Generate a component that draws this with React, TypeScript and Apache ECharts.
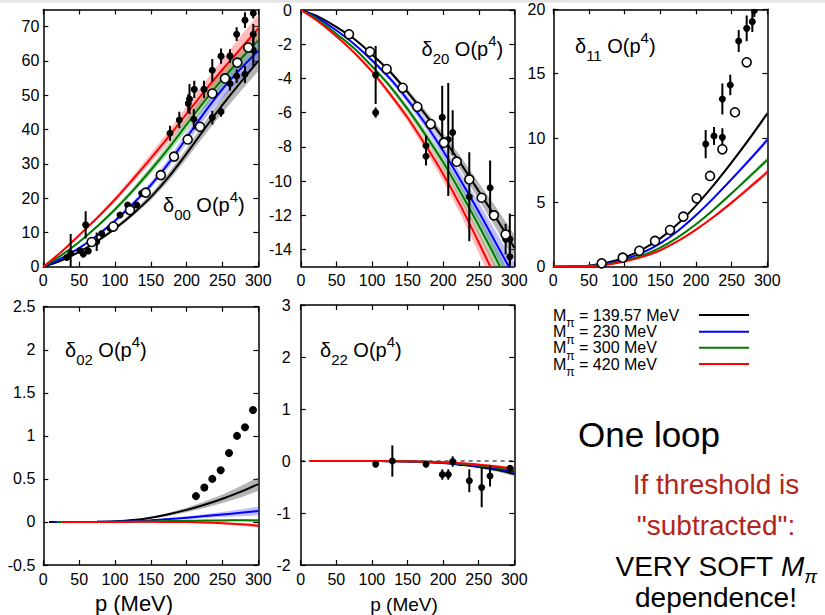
import React, { useEffect, useRef } from "react";
import * as echarts from "echarts";

const FONT = '"Liberation Sans", Arial, Helvetica, sans-serif';

// momentum grid (MeV) shared by all model curves
const pGrid = [0, 25, 50, 75, 100, 125, 150, 175, 200, 225, 250, 275, 300];
const xTicks = [0, 50, 100, 150, 200, 250, 300];

// curve order everywhere: Mpi = 139.57, 230, 300, 420 MeV
const massLabels = ["139.57", "230", "300", "420"];
const curveColors = ["#000000", "#0000ff", "#007a00", "#ff0000"];
const bandColors = [
  "rgba(90,90,90,0.45)",
  "rgba(60,60,255,0.33)",
  "rgba(0,128,0,0.30)",
  "rgba(255,50,50,0.33)",
];

// ---------- delta_00 ----------
const d00Black = [0, 1.8, 4.3, 7.4, 11.1, 15.4, 20.3, 26.2, 33, 40.2, 47.2, 53.7, 60];
const d00Blue = [0, 2.4, 5.4, 9.1, 13.4, 18.3, 23.8, 30.2, 37.6, 45, 51.8, 57.6, 63];
const d00Green = [0, 3.3, 7.2, 11.7, 16.7, 22.2, 28.2, 34.6, 41.5, 48.3, 54.7, 60.5, 66];
const d00Red = [0, 4.3, 9.2, 14.2, 19.6, 25.5, 31.6, 37.9, 44.6, 51.2, 57.5, 63.5, 69.5];
const d00BandBlack = [0, 0.1, 0.2, 0.3, 0.5, 0.7, 0.9, 1.2, 1.5, 1.9, 2.3, 2.6, 3];
const d00BandBlue = [0, 0.1, 0.2, 0.3, 0.5, 0.7, 1, 1.3, 1.7, 2.1, 2.5, 3, 3.4];
const d00BandGreen = [0, 0.1, 0.2, 0.4, 0.6, 0.8, 1.1, 1.4, 1.8, 2.2, 2.7, 3.1, 3.6];
const d00BandRed = [0, 0.2, 0.3, 0.5, 0.7, 1, 1.3, 1.7, 2.1, 2.6, 3.1, 3.6, 4];
const d00Open = [
  [67.5, 7.2], [97.7, 11.7], [121, 16.5], [142.9, 21.6], [164, 26.7], [182.4, 32.1],
  [201.5, 37.1], [218.6, 40.8], [235.9, 50.5], [253.5, 54.9], [270.7, 59.5], [286, 63.9],
];
// [p, value, error]
const d00Err = [
  [32.6, 2.7, 0.5], [38.2, 3.9, 5.6], [51.2, 4.7, 0.8], [55.8, 3.7, 1], [62.8, 4.6, 0.6],
  [59.1, 12.2, 4], [74.5, 7.3, 2.7], [81.5, 9.7, 0.7], [93, 11.2, 0.8], [107, 15.1, 0.6],
  [117.7, 18, 0.8], [130.3, 18, 0.8], [137.3, 21.4, 0.6], [176.8, 38.9, 2.2], [189.8, 42.8, 2.4],
  [202.3, 47.6, 2.7], [204, 48.9, 4.4], [210.7, 51.7, 2.5], [210, 43, 3], [224.2, 51.7, 2.5],
  [235.8, 57.3, 3.3], [235.8, 43.5, 2], [248, 61.4, 2.2], [248, 45.2, 1.5], [260.5, 61.4, 2],
  [260.5, 53.4, 2], [269.8, 67.8, 2], [269.8, 55.6, 2], [281.4, 71.9, 2.3], [281.4, 56.1, 2.5],
  [293, 73.9, 1.5], [293, 67.8, 3], [293, 63.2, 5],
];

// ---------- delta_20 ----------
const d20Black = [0, -0.4, -1.0, -1.7, -2.6, -3.6, -4.8, -6.1, -7.5, -9.0, -10.6, -12.2, -13.9];
const d20Blue = [0, -0.5, -1.2, -2.0, -2.95, -4.0, -5.25, -6.65, -8.25, -10.0, -11.8, -13.7, -15.6];
const d20Green = [0, -0.6, -1.4, -2.25, -3.3, -4.45, -5.8, -7.3, -8.9, -10.7, -12.6, -14.6, -16.8];
const d20Red = [0, -0.7, -1.55, -2.5, -3.6, -4.9, -6.3, -7.9, -9.6, -11.5, -13.6, -15.8, -18.2];
const d20BandBlack = [0, 0, 0.02, 0.05, 0.08, 0.12, 0.17, 0.23, 0.3, 0.4, 0.5, 0.62, 0.75];
const d20BandBlue = [0, 0, 0.03, 0.06, 0.1, 0.15, 0.2, 0.27, 0.35, 0.45, 0.56, 0.68, 0.8];
const d20BandGreen = [0, 0, 0.03, 0.06, 0.1, 0.15, 0.2, 0.27, 0.35, 0.45, 0.56, 0.68, 0.8];
const d20BandRed = [0, 0, 0.03, 0.07, 0.12, 0.17, 0.23, 0.3, 0.4, 0.5, 0.62, 0.75, 0.9];
const d20Open = [
  [67.5, -1.42], [97, -2.44], [120.5, -3.45], [143, -4.55], [163.6, -5.66], [182.4, -6.67],
  [201, -7.76], [219, -8.87], [236.7, -9.91], [254, -10.98], [271.4, -12.01], [287.8, -13.13],
];
const d20Err = [
  [105, -3.8, 1.7], [105, -6, 0.3], [175.8, -7.94, 0.6], [175.8, -8.55, 0.55], [198.6, -6.28, 1.85],
  [207.1, -7.57, 3.3], [213.3, -7.16, 1.3], [236.7, -10.92, 2.6], [266, -10.4, 1.6],
  [287.8, -13.4, 0.9], [293.7, -13.4, 1.5], [293.7, -14.43, 0.6],
];

// ---------- delta_11 ----------
const d11Black = [0, 0.01, 0.08, 0.3, 0.72, 1.35, 2.2, 3.35, 4.75, 6.35, 8.1, 9.95, 11.9];
const d11Blue = [0, 0.01, 0.06, 0.24, 0.58, 1.1, 1.82, 2.8, 4.0, 5.35, 6.8, 8.3, 9.85];
const d11Green = [0, 0, 0.05, 0.19, 0.46, 0.88, 1.48, 2.3, 3.3, 4.45, 5.7, 7.0, 8.3];
const d11Red = [0, 0, 0.04, 0.16, 0.4, 0.76, 1.28, 2.0, 2.88, 3.88, 4.98, 6.15, 7.35];
const d11Band = [0, 0, 0, 0, 0.01, 0.02, 0.03, 0.05, 0.07, 0.1, 0.13, 0.16, 0.2];
const d11Open = [
  [67.8, 0.26], [97.3, 0.7], [120.6, 1.24], [142.6, 2.0], [163.6, 2.85], [182.3, 3.89],
  [201, 5.31], [219.7, 7.05], [237, 9.12], [254.7, 12.0], [271.1, 15.88],
];
const d11Err = [
  [213.6, 9.53, 1.1], [225.3, 10.15, 0.7], [237, 13.03, 1.2], [237, 10.05, 0.7], [248.1, 14.12, 0.8],
  [259.9, 17.54, 0.85], [271.1, 18.52, 1], [279, 19.04, 0.8], [281.8, 19.9, 0.5],
];

// ---------- delta_02 ----------
const d02Start = [8, 14, 19, 25];
const d02Black = [0, 0, 0, 0.002, 0.008, 0.022, 0.05, 0.09, 0.14, 0.2, 0.27, 0.35, 0.44];
const d02Blue = [0, 0, 0, 0.001, 0.004, 0.01, 0.02, 0.033, 0.05, 0.068, 0.087, 0.106, 0.127];
const d02Green = [0, 0, 0, 0, 0.001, 0.003, 0.006, 0.01, 0.013, 0.016, 0.018, 0.019, 0.018];
const d02Red = [0, 0, 0, 0, 0, 0.001, 0.001, 0, -0.002, -0.007, -0.015, -0.027, -0.043];
const d02BandBlack = [0, 0, 0, 0, 0.002, 0.005, 0.01, 0.017, 0.026, 0.037, 0.05, 0.065, 0.08];
const d02BandBlue = [0, 0, 0, 0, 0.002, 0.004, 0.007, 0.011, 0.016, 0.022, 0.03, 0.04, 0.05];
const d02BandGreen = [0, 0, 0, 0, 0.001, 0.002, 0.003, 0.004, 0.006, 0.008, 0.01, 0.012, 0.015];
const d02BandRed = [0, 0, 0, 0, 0.001, 0.002, 0.003, 0.005, 0.007, 0.01, 0.013, 0.016, 0.02];
const d02Dots = [
  [213, 0.3], [224.7, 0.4], [235.8, 0.5], [247.5, 0.6], [259.1, 0.8], [270.3, 1.0], [281.4, 1.1], [292.6, 1.3],
];

// ---------- delta_22 ----------
const d22Start = [13, 13, 13, 13];
const d22Black = [0, 0, 0, 0, -0.001, -0.004, -0.01, -0.02, -0.04, -0.075, -0.115, -0.17, -0.25];
const d22Blue = [0, 0, 0, 0, -0.001, -0.003, -0.008, -0.017, -0.035, -0.065, -0.1, -0.145, -0.21];
const d22Green = [0, 0, 0, 0, -0.001, -0.003, -0.007, -0.015, -0.03, -0.055, -0.085, -0.125, -0.18];
const d22Red = [0, 0, 0, 0, 0, -0.002, -0.006, -0.013, -0.025, -0.045, -0.07, -0.105, -0.15];
const d22Band = [0, 0, 0, 0, 0, 0.001, 0.002, 0.004, 0.008, 0.013, 0.02, 0.03, 0.04];
const d22Err = [
  [105.3, -0.06, 0], [128.7, 0, 0.3], [176, -0.06, 0], [198.9, -0.26, 0.1], [207.3, -0.26, 0.1],
  [213.5, -0.01, 0.1], [236.8, -0.38, 0.22], [254.2, -0.51, 0.38], [265.9, -0.29, 0.2], [294, -0.14, 0.05],
];

type Panel = {
  grid: { left: number; top: number; width: number; height: number };
  yMin: number;
  yMax: number;
  yTicks: number[];
  yLabelMargin: number;
  curves: number[][];
  bands: number[][];
  starts: number[];
  open: number[][];
  err: number[][];
  dots: number[][];
  dashedZero: boolean;
  xName: { x: number; y: number; size: number } | null;
  title: { sub: string; x: number; y: number };
};

const panels: Panel[] = [
  {
    grid: { left: 43.3, top: 9.5, width: 215, height: 257.2 },
    yMin: 0, yMax: 75, yTicks: [0, 10, 20, 30, 40, 50, 60, 70], yLabelMargin: 4,
    curves: [d00Black, d00Blue, d00Green, d00Red],
    bands: [d00BandBlack, d00BandBlue, d00BandGreen, d00BandRed],
    starts: [0, 0, 0, 0], open: d00Open, err: d00Err, dots: [], dashedZero: false, xName: null,
    title: { sub: "00", x: 163, y: 205 },
  },
  {
    grid: { left: 301, top: 10, width: 213.3, height: 256.5 },
    yMin: -15, yMax: 0, yTicks: [-14, -12, -10, -8, -6, -4, -2, 0], yLabelMargin: 9,
    curves: [d20Black, d20Blue, d20Green, d20Red],
    bands: [d20BandBlack, d20BandBlue, d20BandGreen, d20BandRed],
    starts: [0, 0, 0, 0], open: d20Open, err: d20Err, dots: [], dashedZero: false, xName: null,
    title: { sub: "20", x: 421.5, y: 49 },
  },
  {
    grid: { left: 553.3, top: 9.3, width: 214, height: 257.4 },
    yMin: 0, yMax: 20, yTicks: [0, 5, 10, 15, 20], yLabelMargin: 8,
    curves: [d11Black, d11Blue, d11Green, d11Red],
    bands: [d11Band, d11Band, d11Band, d11Band],
    starts: [0, 0, 0, 0], open: d11Open, err: d11Err, dots: [], dashedZero: false, xName: null,
    title: { sub: "11", x: 575, y: 46 },
  },
  {
    grid: { left: 43.3, top: 306.7, width: 215, height: 258.3 },
    yMin: -0.5, yMax: 2.5, yTicks: [-0.5, 0, 0.5, 1, 1.5, 2, 2.5], yLabelMargin: 8,
    curves: [d02Black, d02Blue, d02Green, d02Red],
    bands: [d02BandBlack, d02BandBlue, d02BandGreen, d02BandRed],
    starts: d02Start, open: [], err: [], dots: d02Dots, dashedZero: false,
    xName: { x: 134, y: 603, size: 22 },
    title: { sub: "02", x: 65, y: 350 },
  },
  {
    grid: { left: 300.7, top: 305, width: 213.6, height: 260 },
    yMin: -2, yMax: 3, yTicks: [-2, -1, 0, 1, 2, 3], yLabelMargin: 10,
    curves: [d22Black, d22Blue, d22Green, d22Red],
    bands: [d22Band, d22Band, d22Band, d22Band],
    starts: d22Start, open: [], err: d22Err, dots: [], dashedZero: true,
    xName: { x: 404, y: 604, size: 19 },
    title: { sub: "22", x: 320, y: 350 },
  },
];

const axisLineStyle = { color: "#000", width: 1.5 };
const labelStyle = { fontSize: 16, color: "#000", fontFamily: FONT };

function curvePoints(values: number[], start: number) {
  return pGrid.map((p, i) => [i === 0 ? start : p, values[i]]);
}

function buildOption() {
  const grid: any[] = [];
  const xAxis: any[] = [];
  const yAxis: any[] = [];
  const series: any[] = [];

  panels.forEach((pn, k) => {
    grid.push({ ...pn.grid, outerBoundsMode: "none", containLabel: false });

    ["bottom", "top"].forEach((pos, j) => {
      xAxis.push({
        type: "value", gridIndex: k, position: pos, min: 0, max: 300,
        axisLine: { show: true, onZero: false, lineStyle: axisLineStyle },
        axisTick: { show: true, inside: true, length: 5, customValues: xTicks, lineStyle: { color: "#000", width: 1.2 } },
        axisLabel: { show: j === 0, customValues: xTicks, margin: 6, ...labelStyle },
        splitLine: { show: false },
      });
    });
    ["left", "right"].forEach((pos, j) => {
      yAxis.push({
        type: "value", gridIndex: k, position: pos, min: pn.yMin, max: pn.yMax,
        axisLine: { show: true, onZero: false, lineStyle: axisLineStyle },
        axisTick: { show: true, inside: true, length: 5, customValues: pn.yTicks, lineStyle: { color: "#000", width: 1.2 } },
        axisLabel: { show: j === 0, customValues: pn.yTicks, margin: pn.yLabelMargin, ...labelStyle },
        splitLine: { show: false },
      });
    });

    const xi = 2 * k;
    const yi = 2 * k;

    if (pn.dashedZero) {
      series.push({
        type: "line", xAxisIndex: xi, yAxisIndex: yi, silent: true, symbol: "none", z: 1,
        data: [[0, 0], [300, 0]],
        lineStyle: { color: "#000", width: 1, type: [4, 4] },
      });
    }

    // uncertainty bands
    pn.curves.forEach((vals, c) => {
      const w = pn.bands[c];
      const start = pn.starts[c];
      series.push({
        type: "custom", xAxisIndex: xi, yAxisIndex: yi, silent: true, clip: true, z: 2,
        data: [[0, 0]],
        renderItem: (_params: any, api: any) => {
          const upper = pGrid.map((p, i) => api.coord([i === 0 ? start : p, vals[i] + w[i]]));
          const lower = pGrid.map((p, i) => api.coord([i === 0 ? start : p, vals[i] - w[i]])).reverse();
          return {
            type: "polygon",
            shape: { points: upper.concat(lower) },
            style: { fill: bandColors[c], stroke: "none" },
          };
        },
      });
    });

    // central curves
    pn.curves.forEach((vals, c) => {
      series.push({
        type: "line", xAxisIndex: xi, yAxisIndex: yi, silent: true, symbol: "none", showSymbol: false,
        smooth: 0.3, z: 3,
        data: curvePoints(vals, pn.starts[c]),
        lineStyle: { color: curveColors[c], width: 2 },
      });
    });

    if (pn.err.length) {
      series.push({
        type: "custom", xAxisIndex: xi, yAxisIndex: yi, silent: true, clip: true, z: 5,
        data: pn.err,
        encode: { x: 0, y: 1 },
        renderItem: (_params: any, api: any) => {
          const p = api.value(0);
          const v = api.value(1);
          const e = api.value(2);
          const c = api.coord([p, v]);
          const hi = api.coord([p, v + e]);
          const lo = api.coord([p, v - e]);
          return {
            type: "group",
            children: [
              { type: "line", shape: { x1: c[0], y1: hi[1], x2: c[0], y2: lo[1] }, style: { stroke: "#000", lineWidth: 2 } },
              { type: "circle", shape: { cx: c[0], cy: c[1], r: 3.5 }, style: { fill: "#000" } },
            ],
          };
        },
      });
    }

    if (pn.open.length) {
      series.push({
        type: "scatter", xAxisIndex: xi, yAxisIndex: yi, silent: true, z: 6,
        data: pn.open, symbol: "circle", symbolSize: 9,
        itemStyle: { color: "#fff", borderColor: "#000", borderWidth: 1.6, opacity: 1 },
      });
    }

    if (pn.dots.length) {
      series.push({
        type: "scatter", xAxisIndex: xi, yAxisIndex: yi, silent: true, z: 6,
        data: pn.dots, symbol: "circle", symbolSize: 8,
        itemStyle: { color: "#000", opacity: 1 },
      });
    }
  });

  const titleRich = {
    b: { fontSize: 20, lineHeight: 33, fontFamily: FONT, fill: "#000" },
    sub: { fontSize: 15, lineHeight: 23, verticalAlign: "bottom", fontFamily: FONT, fill: "#000" },
    sup: { fontSize: 15, lineHeight: 15, verticalAlign: "top", fontFamily: FONT, fill: "#000" },
  };

  const graphic: any[] = [
    { type: "rect", shape: { x: 0, y: 0, width: 825, height: 2.5 }, style: { fill: "#e4e4e4" }, silent: true },
  ];

  panels.forEach((pn) => {
    graphic.push({
      type: "text", x: pn.title.x, y: pn.title.y, silent: true, z: 10,
      style: {
        text: `{b|δ}{sub|${pn.title.sub}}{b| O(p}{sup|4}{b|)}`,
        rich: titleRich, align: "left", verticalAlign: "middle",
      },
    });
    if (pn.xName) {
      graphic.push({
        type: "text", x: pn.xName.x, y: pn.xName.y, silent: true,
        style: {
          text: "p (MeV)", fontSize: pn.xName.size, fontFamily: FONT, fill: "#000",
          align: "center", verticalAlign: "middle",
        },
      });
    }
  });

  const legendRows = [315, 331.7, 347.7, 364];
  const legendRich = {
    m: { fontSize: 16, lineHeight: 28, fontFamily: FONT, fill: "#000" },
    pi: { fontSize: 12, lineHeight: 12, verticalAlign: "bottom", fontFamily: FONT, fill: "#000" },
  };
  massLabels.forEach((m, i) => {
    graphic.push({
      type: "text", x: 553, y: legendRows[i], silent: true,
      style: { text: `{m|M}{pi|π}{m| = ${m} MeV}`, rich: legendRich, align: "left", verticalAlign: "middle" },
    });
    graphic.push({
      type: "line", silent: true,
      shape: { x1: 699, y1: legendRows[i], x2: 749, y2: legendRows[i] },
      style: { stroke: curveColors[i], lineWidth: 2 },
    });
  });

  const red = "#b3241b";
  graphic.push(
    {
      type: "text", x: 578, y: 434, silent: true,
      style: { text: "One loop", fontSize: 35, fontFamily: FONT, fill: "#000", align: "left", verticalAlign: "middle" },
    },
    {
      type: "text", x: 716, y: 484.3, silent: true,
      style: { text: "If threshold is", fontSize: 28, fontFamily: FONT, fill: red, align: "center", verticalAlign: "middle" },
    },
    {
      type: "text", x: 716, y: 525.3, silent: true,
      style: { text: '"subtracted":', fontSize: 28, fontFamily: FONT, fill: red, align: "center", verticalAlign: "middle" },
    },
    {
      type: "text", x: 716, y: 566, silent: true,
      style: {
        text: "{n|VERY SOFT }{mi|M}{pi|π}",
        align: "center", verticalAlign: "middle",
        rich: {
          n: { fontSize: 28, lineHeight: 39, fontFamily: FONT, fill: "#000" },
          mi: { fontSize: 28, lineHeight: 39, fontStyle: "italic", fontFamily: FONT, fill: "#000" },
          pi: { fontSize: 19, lineHeight: 19, verticalAlign: "bottom", fontStyle: "italic", fontFamily: FONT, fill: "#000" },
        },
      },
    },
    {
      type: "text", x: 716, y: 597, silent: true,
      style: { text: "dependence!", fontSize: 28, fontFamily: FONT, fill: "#000", align: "center", verticalAlign: "middle" },
    }
  );

  return {
    animation: false,
    backgroundColor: "#fff",
    grid,
    xAxis,
    yAxis,
    series,
    graphic,
  };
}

export default function App() {
  const ref = useRef<HTMLDivElement>(null);
  useEffect(() => {
    if (!ref.current) return;
    const chart = echarts.init(ref.current, null, { renderer: "svg" });
    chart.setOption(buildOption() as any);
    return () => chart.dispose();
  }, []);
  return (
    <div
      ref={ref}
      style={{ position: "absolute", left: 0, top: 0, width: 825, height: 615, background: "#fff" }}
    />
  );
}
